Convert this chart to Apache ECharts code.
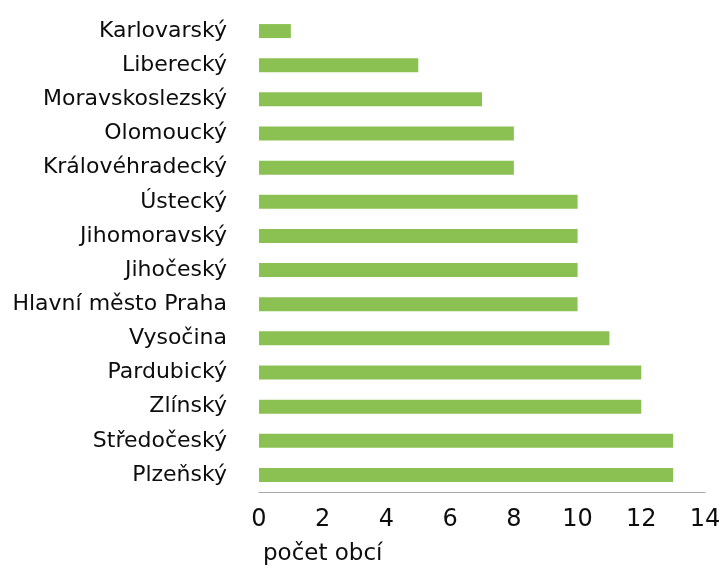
<!DOCTYPE html>
<html lang="cs">
<head>
    <meta charset="utf-8">
    <title>Počet obcí podle krajů</title>
    <script src="https://cdn.jsdelivr.net/npm/echarts@6/dist/echarts.min.js"></script>
    <style>
        html, body {
            margin: 0;
            padding: 0;
            background: #fff;
        }
    </style>
</head>
<body>
<div id="chart" style="width: 720px; height: 573px;"></div>

<script>
    // kraje shora dolů, jak jsou v obrázku
    var regions = ['Karlovarský', 'Liberecký', 'Moravskoslezský', 'Olomoucký', 'Královéhradecký',
        'Ústecký', 'Jihomoravský', 'Jihočeský', 'Hlavní město Praha', 'Vysočina',
        'Pardubický', 'Zlínský', 'Středočeský', 'Plzeňský'];
    var counts = [1, 5, 7, 8, 8, 10, 10, 10, 10, 11, 12, 12, 13, 13];
    var axisMax = 14;
    var axisStep = 2;

    var myChart = echarts.init(document.getElementById('chart'));

    var option = {
        animation: false,
        textStyle: {
            fontFamily: 'DejaVu Sans'
        },
        title: {
            text: 'počet obcí',
            left: 263,
            top: 543,
            padding: 0,
            textStyle: {
                fontFamily: 'DejaVu Sans',
                fontSize: 23,
                fontWeight: 'normal',
                color: '#0d0d0d'
            }
        },
        grid: {
            left: 259,
            right: 15,
            top: 14,
            bottom: 81,
            outerBoundsMode: 'none'
        },
        xAxis: {
            type: 'value',
            min: 0,
            max: axisMax,
            interval: axisStep,
            axisLine: {
                show: true,
                lineStyle: { color: '#a6a6a6', width: 1 }
            },
            axisTick: { show: false },
            splitLine: { show: false },
            axisLabel: {
                margin: 16,
                fontSize: 24,
                color: '#0d0d0d'
            }
        },
        yAxis: {
            type: 'category',
            inverse: true,
            data: regions,
            axisLine: { show: false },
            axisTick: { show: false },
            axisLabel: {
                margin: 32,
                fontSize: 22,
                color: '#0d0d0d'
            }
        },
        series: [
            {
                type: 'bar',
                data: counts,
                barWidth: 14,
                itemStyle: { color: '#8bc152' }
            }
        ]
    };
    myChart.setOption(option);
</script>
</body>
</html>
